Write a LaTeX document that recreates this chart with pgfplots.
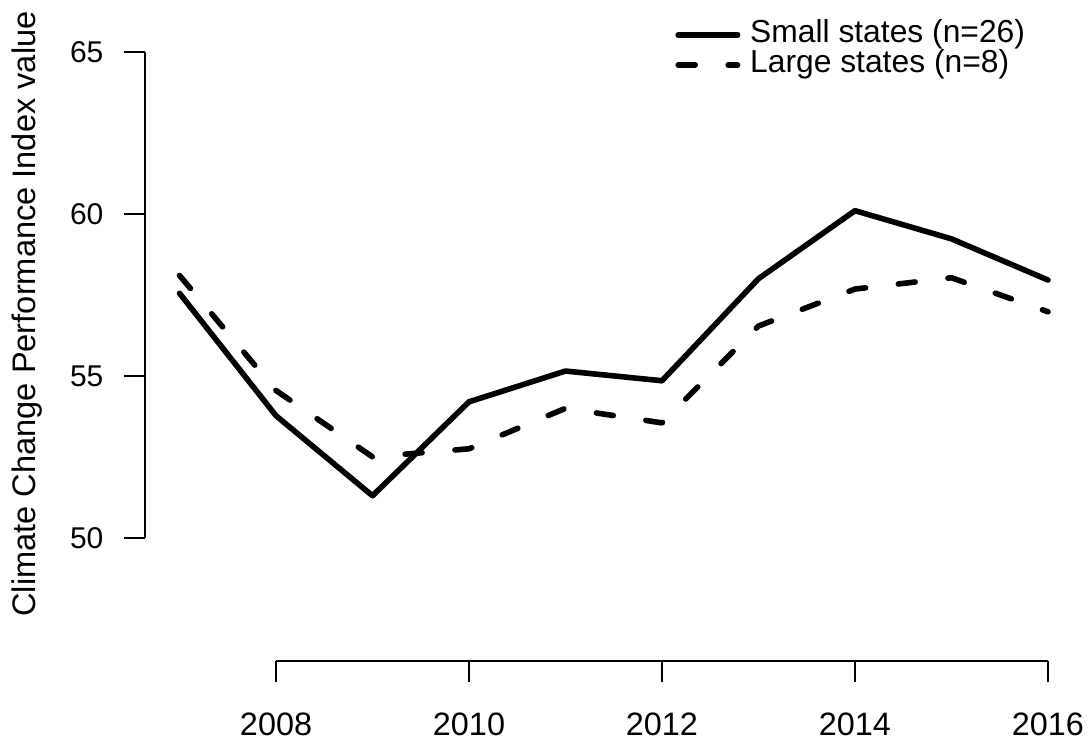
\documentclass[border=0pt]{standalone}
\usepackage{fontspec}
\setmainfont{Liberation Sans}
\usepackage{pgfplots}
\pgfplotsset{compat=1.18}
\newcommand\ff{\fontsize{15.9pt}{19pt}\selectfont}
\begin{document}
\begin{tikzpicture}
\path[use as bounding box] (-72.4pt,-41.5pt) rectangle (473.1pt,330.5pt);
\begin{axis}[
  scale only axis, width=468.95pt, height=316.2pt,
  xmin=2006.64, xmax=2016.36, ymin=46.2, ymax=65.72,
  axis x line*=bottom, axis y line*=left,
  axis line style={draw=none},
  clip=false,
  tick align=outside, major tick length=10.5pt,
  tick style={line width=1pt, black},
  xtick={2008,2010,2012,2014,2016}, ytick={50,55,60,65},
  /pgf/number format/assume math mode=true,
  xticklabel style={font=\fontsize{16.2pt}{19pt}\selectfont, /pgf/number format/1000 sep={}, inner sep=0pt, yshift=-15pt},
  yticklabel style={font=\fontsize{15pt}{18pt}\selectfont, inner sep=0pt, xshift=-10pt},
  ylabel={Climate Change Performance Index value},
  every axis y label/.style={at={(axis description cs:-0.1256,0.5487)}, rotate=90, anchor=center, font=\fontsize{16.3pt}{19pt}\selectfont},
  legend style={draw=none, fill=none, font=\ff, at={(axis description cs:0.5653,1.0144)}, anchor=north west,
    inner sep=0pt, column sep=4.9pt, row sep=0pt,
    nodes={inner sep=0pt, text height=11.3pt, text depth=3.7pt}},
  legend cell align=left,
  legend image code/.code={\draw[mark repeat=2,mark phase=2] plot coordinates {(1.4pt,0pt) (16.25pt,0pt) (31.1pt,0pt)};},
]
\addplot[black, line width=2.8pt, line join=round, line cap=round] coordinates {
  (2007,57.55) (2008,53.77) (2009,51.30) (2010,54.20) (2011,55.15)
  (2012,54.85) (2013,58.00) (2014,60.10) (2015,59.23) (2016,57.96)};
\addlegendentry{Small states (n=26)}
\addplot[black, line width=2.8pt, line join=round, line cap=round, dash pattern=on 8.5pt off 16.5pt] coordinates {
  (2007,58.10) (2008,54.55) (2009,52.50) (2010,52.75) (2011,54.00)
  (2012,53.55) (2013,56.54) (2014,57.68) (2015,58.03) (2016,56.98)};
\addlegendentry{Large states (n=8)}
\draw[line width=1pt] (axis cs:2008,46.2) -- (axis cs:2016,46.2);
\draw[line width=1pt] (axis cs:2006.64,50) -- (axis cs:2006.64,65);
\end{axis}
\end{tikzpicture}
\end{document}
